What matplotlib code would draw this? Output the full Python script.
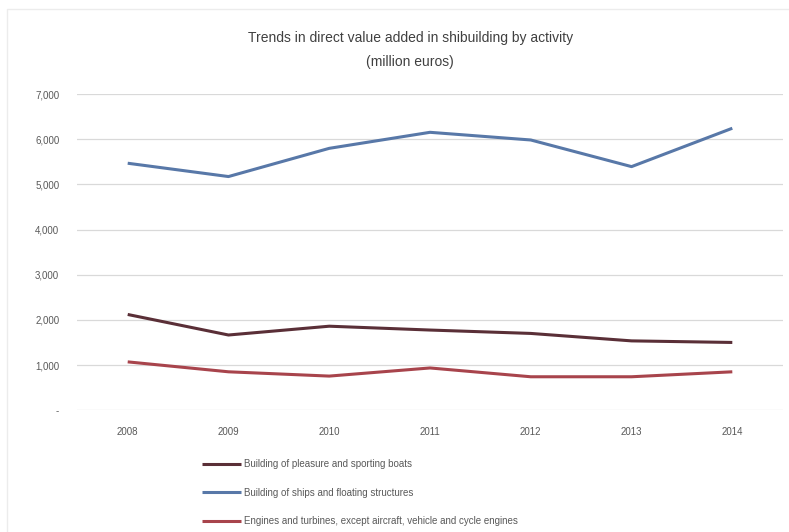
import matplotlib
matplotlib.use("Agg")
import matplotlib.pyplot as plt
from matplotlib.patches import Rectangle

# data (million euros)
years = ["2008", "2009", "2010", "2011", "2012", "2013", "2014"]
pleasure_boats = [2120, 1665, 1860, 1775, 1700, 1535, 1500]
ships_floating = [5470, 5175, 5800, 6155, 5985, 5395, 6245]
engines_turbines = [1070, 850, 755, 935, 740, 740, 850]

labels = [
    "Building of pleasure and sporting boats",
    "Building of ships and floating structures",
    "Engines and turbines, except aircraft, vehicle and cycle engines",
]
colors = ["#5a2f37", "#5878a8", "#a8444c"]
yticks = [0, 1000, 2000, 3000, 4000, 5000, 6000, 7000]

plt.rcParams["font.family"] = ["Liberation Sans", "DejaVu Sans"]

fig = plt.figure(figsize=(7.89, 5.32), dpi=100)
fig.patches.append(Rectangle((0.009, -0.01), 1.0, 0.993, transform=fig.transFigure,
                             fill=False, edgecolor="#ececec", linewidth=1.0))

ax = fig.add_axes([0.098, 0.229, 0.894, 0.594])
x = range(len(years))
series = [pleasure_boats, ships_floating, engines_turbines]
for vals, lab, col in zip(series, labels, colors):
    ax.plot(x, vals, color=col, linewidth=2.2, label=lab, solid_capstyle="butt")

ax.set_xlim(-0.5, len(years) - 0.5)
ax.set_ylim(0, 7000)
ax.set_xticks(list(x))
ax.set_xticklabels(years)
ax.set_yticks(yticks)
ax.set_yticklabels(["-" if v == 0 else f"{v:,}" for v in yticks])
ax.grid(axis="y", color="#d9d9d9", linewidth=0.9)
ax.set_axisbelow(True)
for s in ax.spines.values():
    s.set_visible(False)
ax.tick_params(length=0, labelsize=7, colors="#595959", pad=12)
ax.tick_params(axis="y", pad=13)

fig.text(0.52, 0.928, "Trends in direct value added in shibuilding by activity",
         ha="center", va="center", fontsize=10, color="#404040")
fig.text(0.52, 0.884, "(million euros)", ha="center", va="center",
         fontsize=10, color="#404040")

fig.legend(loc="upper left", bbox_to_anchor=(0.256, 0.137), frameon=False,
           fontsize=7, handlelength=4.0, handletextpad=0.3, labelspacing=1.9,
           labelcolor="#595959", borderaxespad=0, borderpad=0)

fig.savefig("out.png", dpi=100)
